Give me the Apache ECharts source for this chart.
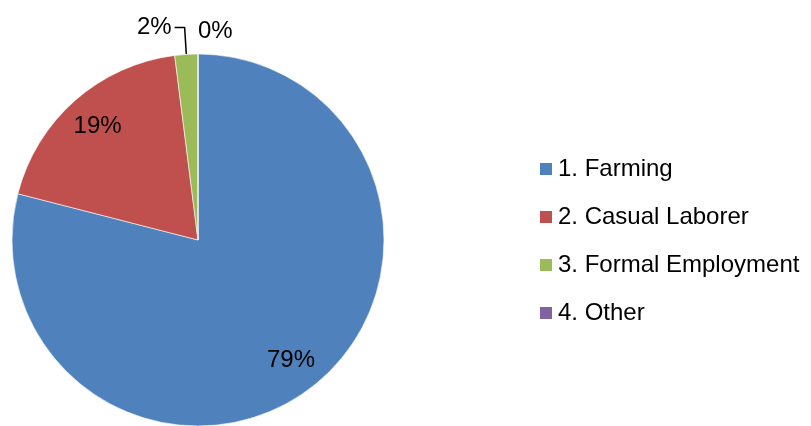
<!DOCTYPE html>
<html>
<head>
  <meta charset="utf8">
  <script src="https://cdn.jsdelivr.net/npm/echarts@6/dist/echarts.min.js"></script>
  <style>
    html, body { margin: 0; padding: 0; background: #fff; }
    #main { width: 811px; height: 426px; }
  </style>
</head>
<body>
<div id="main"></div>
<script type="text/javascript">
    var categories = ['1. Farming', '2. Casual Laborer', '3. Formal Employment', '4. Other'];
    var shares = [79, 19, 2, 0];
    var colors = ['#4F81BD', '#C0504D', '#9BBB59', '#8064A2'];

    var font = 'Liberation Sans, Arial, sans-serif';
    var R = 186;

    var mainData = categories.map(function (c, i) {
        var d = { name: c, value: shares[i], itemStyle: { color: colors[i] } };
        if (i === 2) {
            d.label = { show: true, padding: [0, 0, 14, 0] };
            d.labelLine = { show: true, length: 27, length2: 10 };
        } else {
            d.label = { show: false };
            d.labelLine = { show: false };
        }
        return d;
    });

    // transparent ring so the inside labels sit at 0.8 r
    var ringData = categories.map(function (c, i) {
        return { name: c, value: shares[i], label: { show: i < 2 } };
    });

    var chart = echarts.init(document.getElementById('main'));
    chart.setOption({
        animation: false,
        legend: {
            orient: 'vertical',
            left: 533,
            top: 152,
            itemWidth: 14,
            itemHeight: 14,
            itemGap: 24,
            icon: 'rect',
            data: categories,
            textStyle: { fontFamily: font, fontSize: 24, color: '#000', lineHeight: 24 }
        },
        // pie drops the label of a zero-size slice, so the 0% of "4. Other" is drawn here
        graphic: [{
            type: 'text',
            left: 198,
            top: 19,
            style: { text: shares[3] + '%', font: '24px ' + font, fill: '#000' }
        }],
        series: [
            {
                type: 'pie',
                center: [198, 240],
                radius: [0, R],
                startAngle: 90,
                clockwise: true,
                avoidLabelOverlap: false,
                itemStyle: { borderColor: '#fff', borderWidth: 0.6 },
                label: {
                    position: 'outside',
                    formatter: '{d}%',
                    fontFamily: font,
                    fontSize: 24,
                    color: '#000',
                    distanceToLabelLine: 3
                },
                labelLine: { lineStyle: { color: '#000', width: 1.5 } },
                emphasis: { disabled: true },
                data: mainData
            },
            {
                type: 'pie',
                center: [198, 240],
                radius: [R * 0.6, R],
                startAngle: 90,
                clockwise: true,
                silent: true,
                legendHoverLink: false,
                itemStyle: { color: 'rgba(0,0,0,0)' },
                label: {
                    position: 'inside',
                    formatter: '{d}%',
                    fontFamily: font,
                    fontSize: 24,
                    color: '#000'
                },
                labelLine: { show: false },
                emphasis: { disabled: true },
                data: ringData
            }
        ]
    });
</script>
</body>
</html>
